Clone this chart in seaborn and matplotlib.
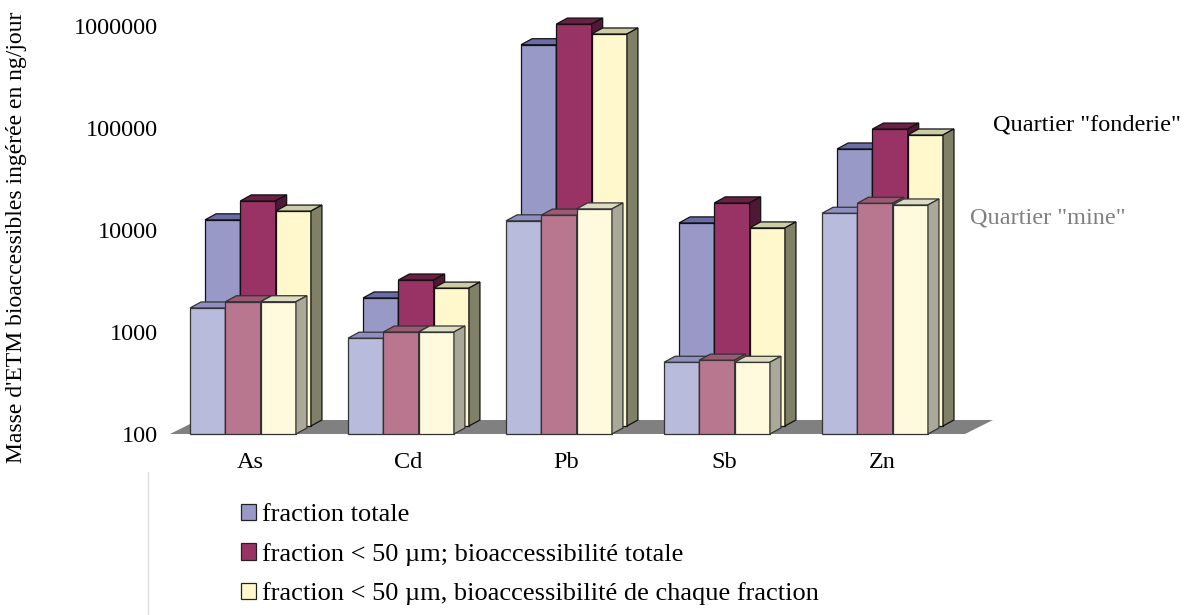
import numpy as np
import pandas as pd
import matplotlib
matplotlib.use("Agg")
import matplotlib.pyplot as plt
import matplotlib.transforms as mtransforms
from matplotlib.patches import Polygon, Patch
from matplotlib.lines import Line2D
import seaborn as sns

# ---------------- data ----------------
elements = ["As", "Cd", "Pb", "Sb", "Zn"]
series = [
    "fraction totale",
    "fraction < 50 µm; bioaccessibilité totale",
    "fraction < 50 µm, bioaccessibilité de chaque fraction",
]
# Quartier "fonderie" (back row)
fonderie_totale = [10500, 1800, 547000, 9800, 52000]
fonderie_bio_totale = [16100, 2700, 872000, 15400, 81500]
fonderie_bio_fraction = [12800, 2250, 697000, 8750, 71300]
# Quartier "mine" (front row)
mine_totale = [1720, 870, 12300, 505, 14600]
mine_bio_totale = [1980, 1000, 14000, 530, 18300]
mine_bio_fraction = [1980, 1000, 16100, 505, 17600]

yticks = [100, 1000, 10000, 100000, 1000000]
ytick_labels = ["100", "1000", "10000", "100000", "1000000"]
ylabel = "Masse d'ETM bioaccessibles ingérée en ng/jour"
row_labels = ['Quartier "fonderie"', 'Quartier "mine"']

# ---------------- style ----------------
back_front = ["#9999C8", "#993366", "#FFF8CC"]
back_top = ["#6B6BA6", "#6A1F45", "#CCCCA6"]
back_side = ["#55558A", "#4F1834", "#808066"]
mine_front = ["#B8BBDC", "#B8778F", "#FFF9DE"]
mine_top = ["#8F8FC2", "#9A5A74", "#DCDCC0"]
mine_side = ["#8A8CB0", "#8A5A6C", "#AAA898"]


def longdf(cols):
    rows = []
    for s, vals in zip(series, cols):
        for e, v in zip(elements, vals):
            rows.append({"element": e, "serie": s, "value": v})
    return pd.DataFrame(rows)


df_back = longdf([fonderie_totale, fonderie_bio_totale, fonderie_bio_fraction])
df_front = longdf([mine_totale, mine_bio_totale, mine_bio_fraction])

sns.set_theme(style="white")
plt.rcParams["font.family"] = ["Liberation Serif", "DejaVu Serif"]
for k in ["text.color", "axes.labelcolor", "xtick.color", "ytick.color"]:
    plt.rcParams[k] = "black"

W, H = 1184, 615
fig = plt.figure(figsize=(W / 100, H / 100), dpi=100)
ax_l, ax_r, ax_t, ax_b = 170, 970, 26, 434
ax = fig.add_axes([ax_l / W, 1 - ax_b / H, (ax_r - ax_l) / W, (ax_b - ax_t) / H])
ax.set_yscale("log")

xlim = (-0.462, 4.601)
ylim = (100, 1000000)

sns.barplot(data=df_back, x="element", y="value", hue="serie", order=elements,
            hue_order=series, palette=back_front, width=0.67, saturation=1,
            errorbar=None, legend=False, ax=ax)
back_containers = list(ax.containers)
sns.barplot(data=df_front, x="element", y="value", hue="serie", order=elements,
            hue_order=series, palette=mine_front, width=0.67, saturation=1,
            errorbar=None, legend=False, ax=ax)
front_containers = list(ax.containers)[len(back_containers):]

ax.set_xlim(*xlim)
ax.set_ylim(*ylim)

# pixel -> data conversions for the pseudo-3D offsets
pxu = ax.bbox.width / (xlim[1] - xlim[0])
pxd = ax.bbox.height / np.log10(ylim[1] / ylim[0])
bar_dx, bar_fy = 11 / pxu, 10 ** (6 / pxd)      # depth of a bar
row_dx, row_fy = 15 / pxu, 10 ** (8 / pxd)      # offset of back row

# floor
floor_front_r = xlim[0] + 795 / pxu
floor = Polygon([(xlim[0], ylim[0]), (floor_front_r, ylim[0]),
                 (floor_front_r + 28 / pxu, ylim[0] * 10 ** (14 / pxd)),
                 (xlim[0] + 28 / pxu, ylim[0] * 10 ** (14 / pxd))],
                closed=True, facecolor="#808080", edgecolor="none", zorder=0.5,
                clip_on=False)
ax.add_patch(floor)


def style_row(containers, dx, fy, tops, sides, zbase, edge):
    for h, cont in enumerate(containers):
        z = zbase + h
        for p in cont.patches:
            x0 = p.get_x() + dx
            w = p.get_width()
            v = p.get_height()
            yb = ylim[0] * fy
            yt = v * fy
            p.set_x(x0)
            p.set_y(yb)
            p.set_height(yt - yb)
            p.set_edgecolor(edge)
            p.set_linewidth(0.9)
            p.set_zorder(z)
            p.set_clip_on(False)
            x1 = x0 + w
            top = Polygon([(x0, yt), (x1, yt), (x1 + bar_dx, yt * bar_fy),
                           (x0 + bar_dx, yt * bar_fy)], closed=True,
                          facecolor=tops[h], edgecolor=edge, linewidth=0.9,
                          zorder=z, clip_on=False)
            side = Polygon([(x1, yb), (x1, yt), (x1 + bar_dx, yt * bar_fy),
                            (x1 + bar_dx, yb * bar_fy)], closed=True,
                           facecolor=sides[h], edgecolor=edge, linewidth=0.9,
                           zorder=z, clip_on=False)
            ax.add_patch(top)
            ax.add_patch(side)


style_row(back_containers, row_dx, row_fy, back_top, back_side, 1, "#111111")
style_row(front_containers, 0, 1, mine_top, mine_side, 10, "#333333")

ax.set_xlim(*xlim)
ax.set_ylim(*ylim)
ax.set_yticks(yticks)
ax.set_yticklabels(ytick_labels)
ax.minorticks_off()
ax.tick_params(axis="y", length=0, pad=9, labelsize=17.5)
ax.tick_params(axis="x", length=0, pad=13, labelsize=17.5)
offset = mtransforms.ScaledTranslation(7 / 100, 0, fig.dpi_scale_trans)
for lab in ax.get_xticklabels():
    lab.set_transform(lab.get_transform() + offset)
ax.set_xlabel("")
ax.set_ylabel("")
for s in ax.spines.values():
    s.set_visible(False)
ax.grid(False)
ax.set_facecolor("none")

fig.text(17 / W, 1 - 237 / H, ylabel, rotation=90, ha="center", va="center",
         fontsize=17)
fig.text(993 / W, 1 - 125 / H, row_labels[0], ha="left", va="center",
         fontsize=17.5, color="black")
fig.text(970 / W, 1 - 218 / H, row_labels[1], ha="left", va="center",
         fontsize=17.5, color="#808080")

handles = [Patch(facecolor=c, edgecolor="#222222", linewidth=0.9) for c in back_front]
fig.legend(handles, series, loc="upper left",
           bbox_to_anchor=(241 / W, 1 - 504 / H), frameon=False, fontsize=19,
           handlelength=0.57, handleheight=0.57, handletextpad=0.23,
           labelspacing=0.62, borderaxespad=0, borderpad=0)

fig.add_artist(Line2D([148 / W, 148 / W], [0, 1 - 472 / H], color="#DDDDDD",
                      linewidth=1))

fig.savefig("out.png", dpi=100)
